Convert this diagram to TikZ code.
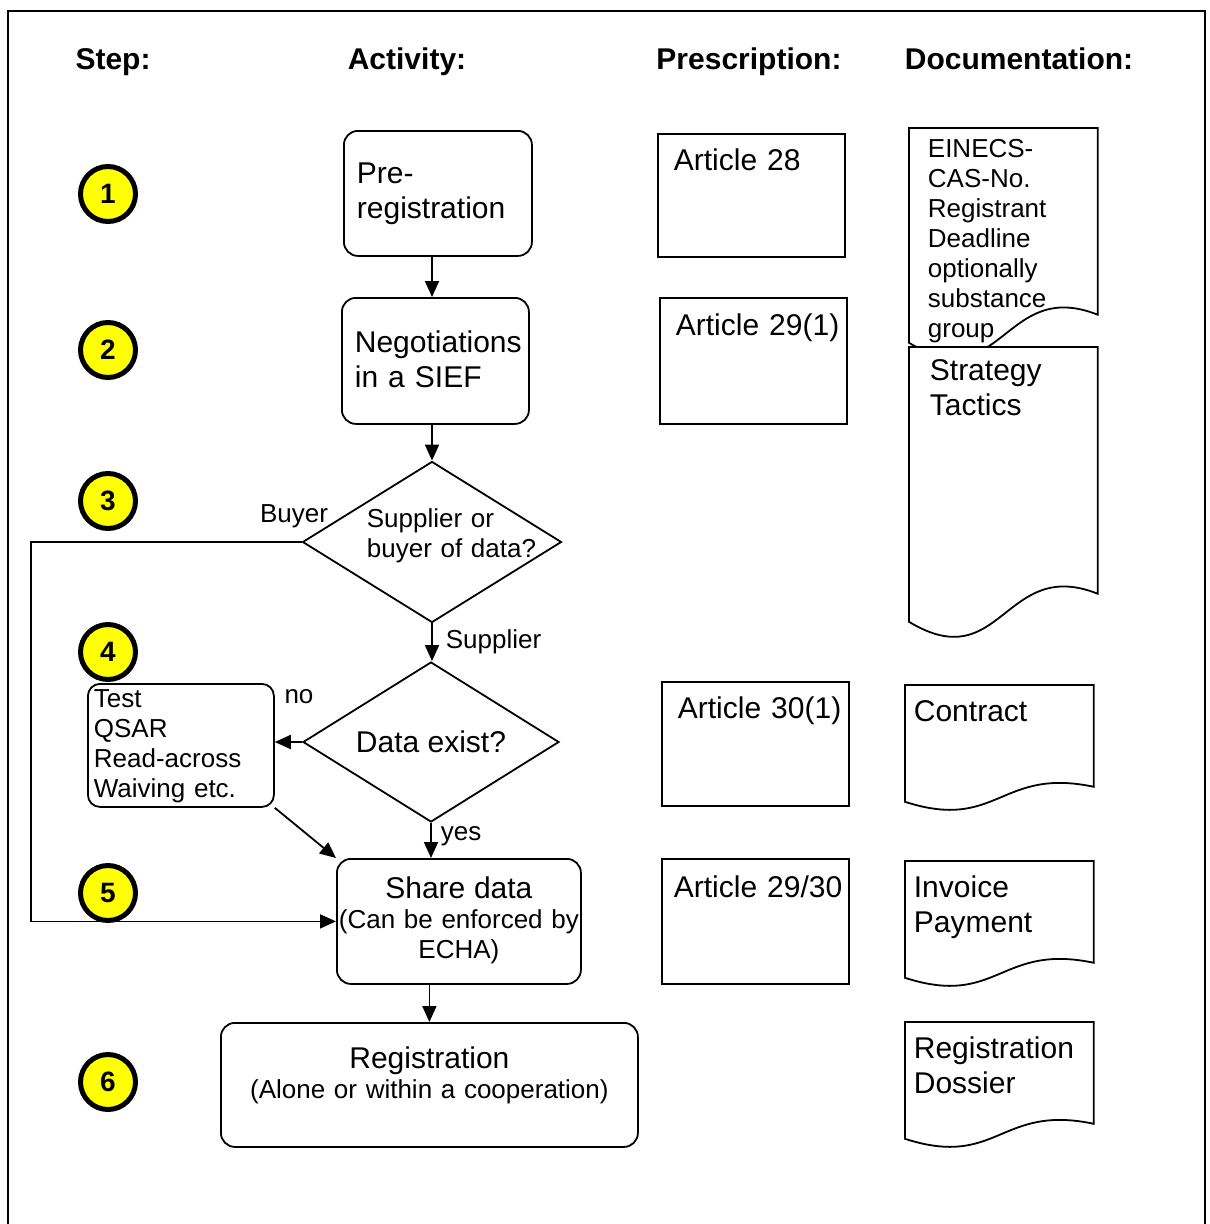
\documentclass[tikz,border=0pt]{standalone}
\usepackage{fontspec}
\setmainfont{Liberation Sans}
\definecolor{stepyellow}{RGB}{255, 255, 0}
\usetikzlibrary{shapes.geometric, arrows.meta, positioning, calc}
\newcommand{\txtbig}{\fontsize{30}{35}\selectfont}
\newcommand{\txtsmall}{\fontsize{26}{30}\selectfont}
\newcommand{\docoutline}[2]{%
  \draw (#1.south west) -- (#1.north west) -- (#1.north east) -- ([yshift=15*#2]#1.south east)
    .. controls +(-94,{-20*#2}) and +(93,{30*#2}) .. (#1.south west) -- cycle;}

\begin{document}
\begin{tikzpicture}[x=1pt, y=-1pt, line width=1.8pt,
  arr/.style={-{Triangle[length=16pt, width=14pt]}},
  head/.style={font=\txtbig\bfseries, anchor=base},
  stepcirc/.style={circle, draw, line width=5pt, fill=stepyellow, minimum size=55pt, inner sep=0pt, font=\fontsize{28}{32}\selectfont\bfseries},
  actbox/.style={draw, rounded corners=14pt, align=left, inner ysep=0pt, anchor=north west, font=\txtbig},
  artbox/.style={draw, align=left, inner ysep=0pt, inner xsep=16pt, text width=155pt, text height=37pt, anchor=north west, font=\txtbig},
  docbox/.style={align=left, inner ysep=0pt, inner xsep=8pt, text width=171pt, text height=36pt, text depth=79pt, anchor=north west, font=\txtbig},
  decision/.style={diamond, draw, shape aspect=1.6, inner sep=0pt},
  lbl/.style={font=\txtsmall, inner sep=0pt}]
  \fill[white] (0,0) rectangle (1210,1224);
  \useasboundingbox (0,0) rectangle (1210,1224);
  \draw[line width=2.4pt] (8,1224) -- (8,11) -- (1205,11) -- (1205,1224);

  \node[head] (hstep) at (113,69) {Step:};
  \node[head] (hact) at (407,69) {Activity:};
  \node[head] (hpres) at (749,69) {Prescription:};
  \node[head] (hdoc) at (1019,69) {Documentation:};

  \foreach \n/\y in {1/194, 2/350, 3/501, 4/652, 5/893, 6/1082}
    \node[stepcirc] (s\n) at (108,\y) {\n};

  \node[actbox, text width=162pt, inner xsep=13pt, text height=53pt, text depth=72pt] (pre) at (343,130) {Pre-\\registration};
  \node[actbox, text width=161pt, inner xsep=13pt, text height=55pt, text depth=71pt] (neg) at (341,297) {Negotiations\\in a SIEF};
  \node[decision, minimum width=259pt, minimum height=161pt] (d1) at (432,542) {};
  \node[lbl, text width=175pt, align=left, anchor=base west] (d1txt) at (366,527) {Supplier or\\buyer of data?};
  \node[decision, minimum width=256pt, minimum height=160pt, font=\txtbig] (d2) at (431,742) {Data exist?};
  \node[actbox, font=\txtsmall, rounded corners=12pt, text width=174pt, inner xsep=6pt, text height=24pt, text depth=99pt] (alt) at (87,683) {Test\\QSAR\\Read-across\\Waiving etc.};
  \node[actbox, align=center, font=\txtsmall, text width=244pt, inner xsep=0pt, text height=40pt, text depth=85pt] (share) at (336,858) {{\txtbig Share data}\\(Can be enforced by\\ECHA)};
  \node[actbox, align=center, font=\txtsmall, text width=417pt, inner xsep=0pt, text height=46pt, text depth=78pt] (reg) at (220,1022) {{\txtbig Registration}\\(Alone or within a cooperation)};

  \node[artbox, text depth=86pt] (art28) at (657,133) {Article~28};
  \node[artbox, text height=38pt, text depth=88pt] (art29) at (659,297) {Article~29(1)};
  \node[artbox, text depth=87pt] (art30) at (661,681) {Article~30(1)};
  \node[artbox, inner xsep=12pt, text width=163pt, text height=39pt, text depth=86pt] (art2930) at (661,858) {Article~29/30};

  \node[docbox, font=\txtsmall, inner xsep=18pt, text width=151pt, text height=29pt, text depth=184pt] (einecs) at (909,128) {EINECS-\\CAS-No.\\Registrant\\Deadline\\optionally\\substance\\group};
  \node[docbox, inner xsep=20pt, text width=147pt, text height=33pt, text depth=240pt] (strat) at (909,347) {Strategy\\Tactics};
  \node[docbox] (contract) at (905,685) {Contract};
  \node[docbox] (invoice) at (905,861) {Invoice\\Payment};
  \node[docbox] (dossier) at (905,1022) {Registration\\Dossier};

  \begin{scope}
    \clip (0,0) rectangle ([xshift=10pt]strat.north east);
    \docoutline{einecs}{1.87}
  \end{scope}
  \docoutline{strat}{1.87}
  \foreach \n in {contract, invoice, dossier} {
    \docoutline{\n}{1}
  }

  \draw[arr] (pre.south -| d1.north) -- (neg.north -| d1.north);
  \draw[arr] (neg.south -| d1.north) -- (d1.north);
  \draw[arr] (d1.south) -- (d1.south |- d2.north);
  \draw[arr] (d2.west) -- (d2.west -| alt.east);
  \draw[arr] (d2.south) -- (d2.south |- share.north);
  \draw[arr] (alt.south east) -- (share.north west);
  \draw[arr] (share.south -| reg.north) -- (reg.north);
  \coordinate (bend) at (31,542);
  \draw[arr] (d1.west) -- (bend) |- (share.west);

  \node[lbl, anchor=base] (buyer) at (294,522) {Buyer};
  \node[lbl, anchor=base west] (supplier) at (445,648) {Supplier};
  \node[lbl, anchor=base] (no) at (299,703) {no};
  \node[lbl, anchor=base west] (yes) at (440,840) {yes};
\end{tikzpicture}
\end{document}
